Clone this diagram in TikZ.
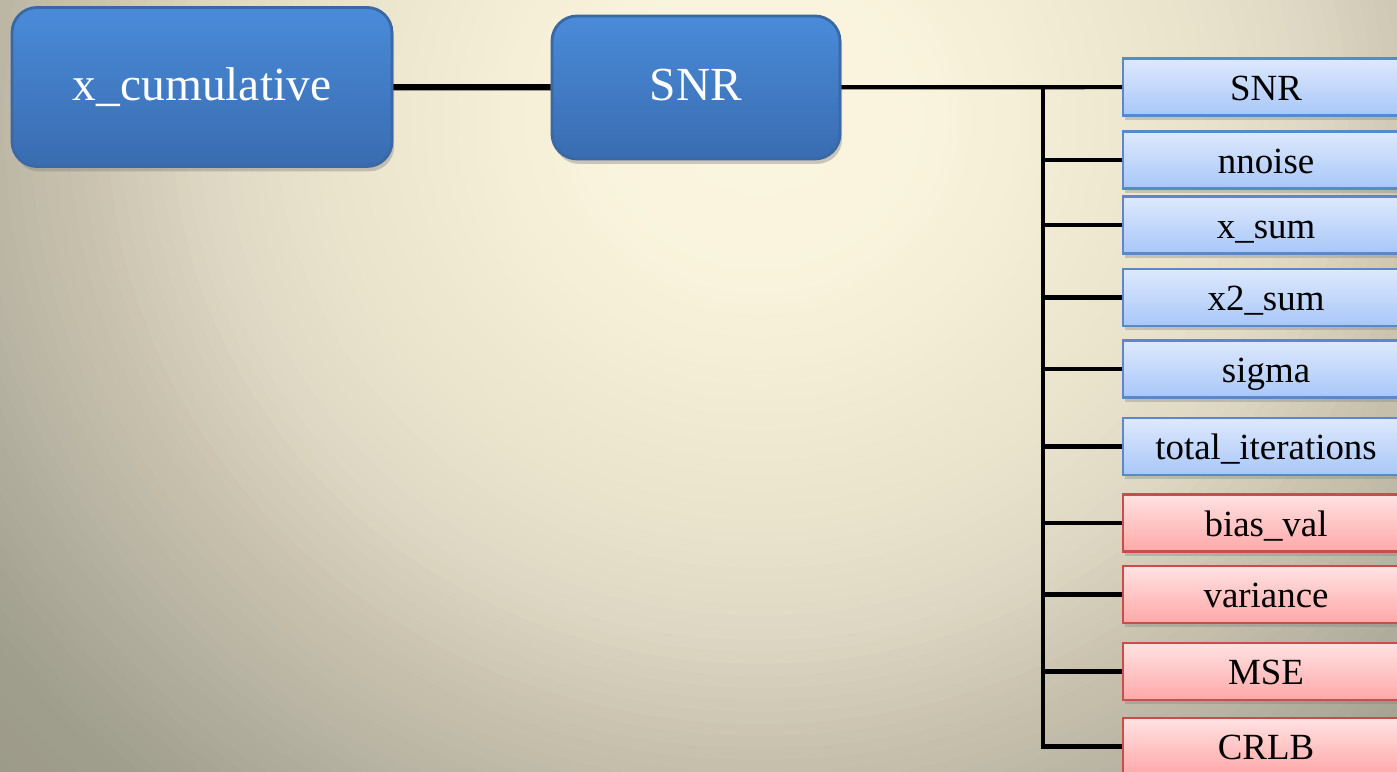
\documentclass[tikz,border=0pt]{standalone}
\usepackage{fontspec}
\setmainfont{Liberation Serif}
\usepackage{tikz}
\usetikzlibrary{positioning,shadows}
\usepackage{xcolor}
\definecolor{bgshadeA}{RGB}{154,151,136}
\definecolor{bgshadeB}{RGB}{160,158,140}
\definecolor{bgshadeC}{RGB}{180,176,160}
\definecolor{bgshadeD}{RGB}{200,193,173}
\definecolor{bgshadeE}{RGB}{222,215,195}
\definecolor{bgshadeF}{RGB}{235,228,205}
\definecolor{bgshadeG}{RGB}{245,238,214}
\definecolor{bgshadeH}{RGB}{250,244,222}
\definecolor{bgshadeI}{RGB}{250,245,223}
\definecolor{maintop}{RGB}{74,139,217}
\definecolor{mainbot}{RGB}{57,108,176}
\definecolor{mainedge}{RGB}{58,104,164}
\definecolor{bluetop}{RGB}{222,233,253}
\definecolor{bluebot}{RGB}{168,199,248}
\definecolor{blueedge}{RGB}{88,136,206}
\definecolor{redtop}{RGB}{255,226,226}
\definecolor{redbot}{RGB}{255,168,168}
\definecolor{rededge}{RGB}{204,76,76}

\begin{document}
\begin{tikzpicture}[
    mainbox/.style={draw=mainedge, line width=0.8pt, rounded corners=0.25cm, top color=maintop, bottom color=mainbot, text=white, inner sep=0pt, font=\fontsize{13.5}{16}\selectfont, text height=0.76em, text depth=0pt, drop shadow={shadow xshift=0.6pt, shadow yshift=-1.4pt, opacity=0.4}},
    leaf/.style={anchor=west, minimum width=2.86cm, minimum height=0.57cm, inner sep=0pt, line width=0.6pt, font=\fontsize{10.5}{12}\selectfont, text height=0.75em, text depth=0pt, drop shadow={shadow xshift=0.5pt, shadow yshift=-1.2pt, opacity=0.35}},
    leafblue/.style={leaf, draw=blueedge, top color=bluetop, bottom color=bluebot},
    leafred/.style={leaf, draw=rededge, top color=redtop, bottom color=redbot},
    link/.style={line width=1.8pt},
    branch/.style={line width=1.2pt}
]
    % Background
    \useasboundingbox (0,0) rectangle (13.97,-7.72);
    \clip (0,0) rectangle (13.97,-7.72);
    \coordinate (glow) at (7.60,-1.20);
    \fill[bgshadeA] (0,0) rectangle (13.97,-7.72);
    \foreach \ra/\rb/\ca/\cb in {10.2/8.8/bgshadeA/bgshadeB, 8.8/7.6/bgshadeB/bgshadeC, 7.6/6.4/bgshadeC/bgshadeD, 6.4/5.2/bgshadeD/bgshadeE, 5.2/4.0/bgshadeE/bgshadeF, 4.0/2.5/bgshadeF/bgshadeG, 2.5/1.4/bgshadeG/bgshadeH, 1.4/0.1/bgshadeH/bgshadeI}
        \foreach \k in {0,...,9} {
            \pgfmathsetmacro\ringrad{\ra-(\ra-\rb)*\k/10}
            \pgfmathtruncatemacro\ringpct{10*\k}
            \fill[\cb!\ringpct!\ca] (glow) ellipse ({1.08*\ringrad} and {\ringrad});
        }

    % Boxes
    \node[mainbox, minimum width=3.80cm, minimum height=1.59cm] (xcum) at (2.02,-0.87) {x\_cumulative};
    \node[mainbox, minimum width=2.88cm, minimum height=1.43cm] (snr) at (6.96,-0.875) {SNR};

    \node[leafblue] (lsnr) at (11.22,-0.87) {SNR};
    \node[leafblue] (lnoise) at (11.22,-1.60) {nnoise};
    \node[leafblue] (lxsum) at (11.22,-2.25) {x\_sum};
    \node[leafblue] (lxtwo) at (11.22,-2.975) {x2\_sum};
    \node[leafblue] (lsigma) at (11.22,-3.69) {sigma};
    \node[leafblue] (ltotal) at (11.22,-4.465) {total\_iterations};
    \node[leafred] (lbias) at (11.22,-5.23) {bias\_val};
    \node[leafred] (lvar) at (11.22,-5.945) {variance};
    \node[leafred] (lmse) at (11.22,-6.715) {MSE};
    \node[leafred] (lcrlb) at (11.22,-7.465) {CRLB};

    % Connectors
    \coordinate (bus) at (10.43,-0.87);
    \draw[link] (xcum) -- (snr);
    \draw[branch] (snr) -- (lsnr);
    \draw[branch] (bus) |- (lcrlb);
    \draw[branch] (bus |- lnoise) -- (lnoise);
    \draw[branch] (bus |- lxsum) -- (lxsum);
    \draw[branch] (bus |- lxtwo) -- (lxtwo);
    \draw[branch] (bus |- lsigma) -- (lsigma);
    \draw[branch] (bus |- ltotal) -- (ltotal);
    \draw[branch] (bus |- lbias) -- (lbias);
    \draw[branch] (bus |- lvar) -- (lvar);
    \draw[branch] (bus |- lmse) -- (lmse);
\end{tikzpicture}
\end{document}
